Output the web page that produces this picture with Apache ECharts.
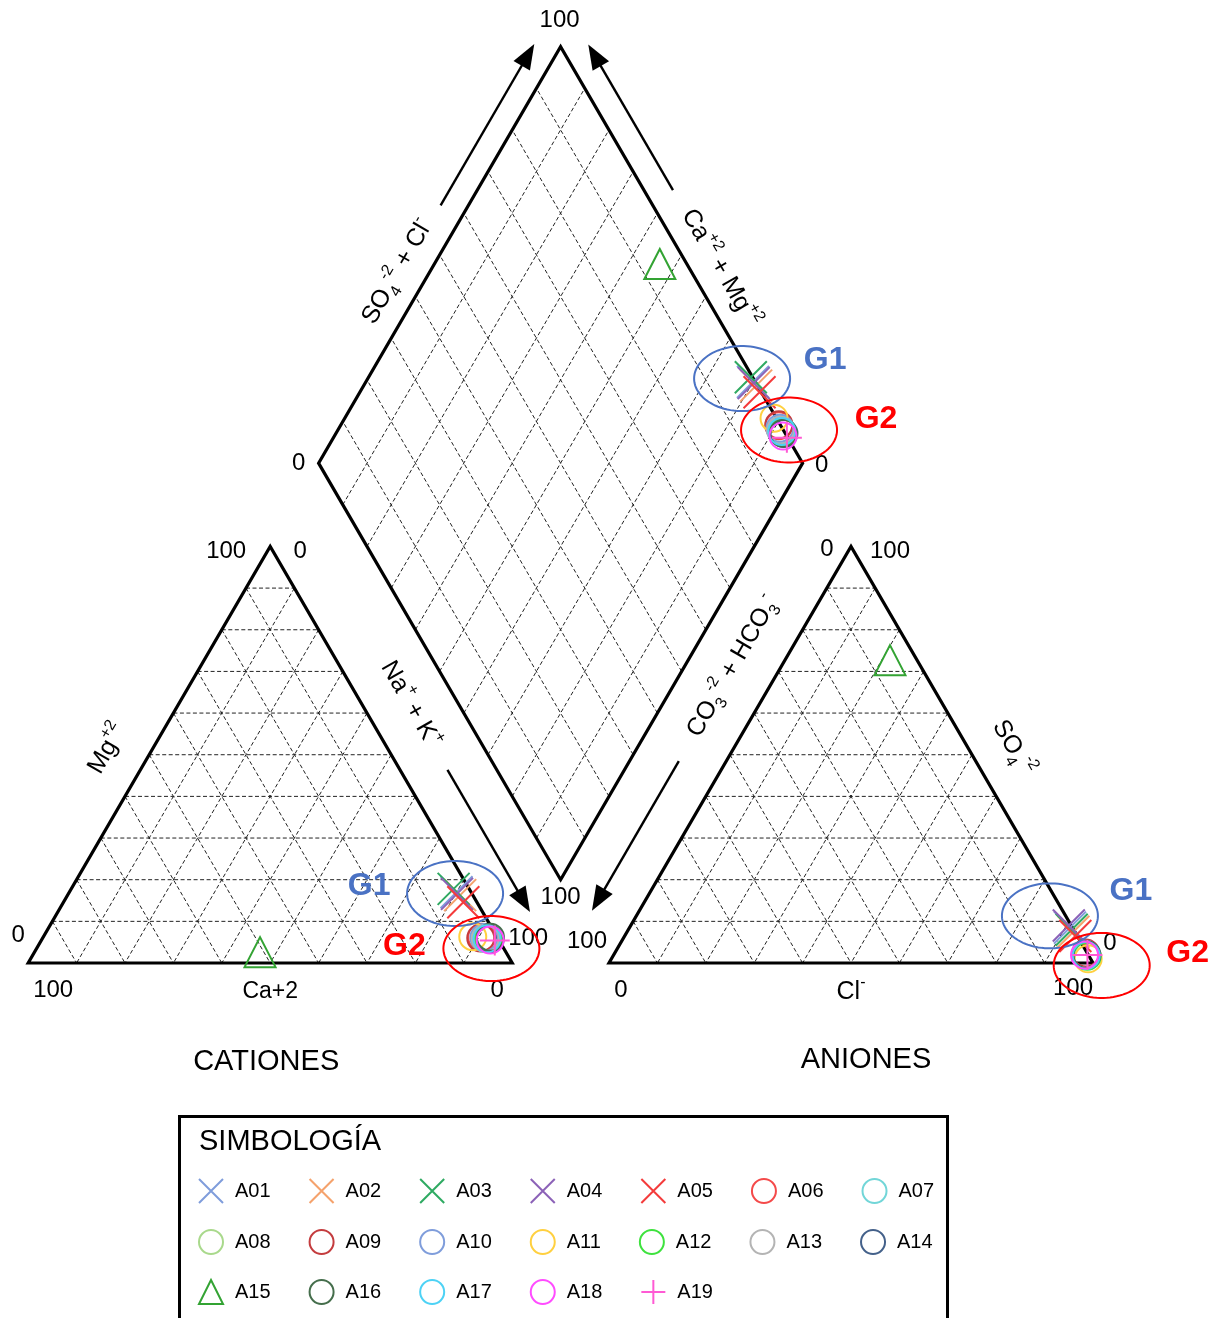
<!DOCTYPE html>
<html>
<head>
<meta charset="utf-8">
<script src="https://cdn.jsdelivr.net/npm/echarts@6/dist/echarts.min.js"></script>
<style>
  html, body { margin: 0; padding: 0; background: #fff; }
  #chart { width: 1221px; height: 1318px; }
</style>
</head>
<body>
<div id="chart"></div>
<script>
// ---- Sample data (meq/L percentages) ----
const samples = ['A01','A02','A03','A04','A05','A06','A07','A08','A09','A10',
                 'A11','A12','A13','A14','A15','A16','A17','A18','A19'];
// cations
const ca  = [3.0, 2.6, 3.2, 3.1, 2.8, 3.2, 2.5, 2.1, 3.5, 2.8, 5.0, 1.9, 2.6, 1.7, 50.8, 1.4, 2.3, 1.8, 0.9];
const mg  = [17.0, 16.3, 17.8, 16.6, 14.6, 6.2, 6.0, 5.8, 6.0, 6.1, 6.3, 5.9, 5.9, 5.7, 2.6, 6.2, 5.8, 5.5, 5.4];
const naK = [80.0, 81.1, 79.0, 80.3, 82.6, 90.6, 91.5, 92.1, 90.5, 91.1, 88.7, 92.2, 91.5, 92.6, 46.6, 92.4, 91.9, 92.7, 93.7];
// anions
const hco3 = [0.5, 0.3, 0.4, 0.5, 0.4, 0.4, 0.5, 0.6, 0.3, 0.5, 0.5, 0.4, 0.6, 0.3, 5.6, 0.4, 0.5, 0.8, 0.2];
const so4  = [8.5, 7.5, 8.0, 9.0, 6.5, 2.2, 2.0, 1.8, 2.4, 2.1, 1.0, 1.6, 2.0, 1.9, 72.7, 2.0, 1.8, 1.9, 1.9];
const cl   = [91.0, 92.2, 91.6, 90.5, 93.1, 97.4, 97.5, 97.6, 97.3, 97.4, 98.5, 98.0, 97.4, 97.8, 21.7, 97.6, 97.7, 97.3, 97.9];
// tick labels at the corners
const tickLow = '0', tickHigh = '100';

// ---- Styling per sample ----
const sampleColors = ['#7f9ddb','#f5a26c','#2faa62','#8c62b8','#f43b3b','#f44a4a','#72d6d8',
                      '#a9d98c','#c43c3e','#7f9ddb','#ffd040','#3ee23e','#b4b4b4','#44618a',
                      '#33a333','#456e4c','#4dd2f5','#ff4cff','#ff5ad4'];
const sampleShapes = ['x','x','x','x','x','o','o','o','o','o','o','o','o','o','tri','o','o','o','plus'];

const FONT = "'Liberation Sans', Arial, sans-serif";
const SQ = Math.sqrt(3) / 2;
const SIDE = 100, GAP = 20;

// Ternary -> plot units
function catPt(c, m, n) {
  const t = c + m + n; m = m / t * SIDE; n = n / t * SIDE;
  return [n + m / 2, m * SQ];
}
function anPt(h, s, c) {
  const t = h + s + c; s = s / t * SIDE; c = c / t * SIDE;
  return [SIDE + GAP + c + s / 2, s * SQ];
}
function diaPt(C, A) {   // C = Ca+Mg %, A = SO4+Cl %
  return [SIDE + GAP / 2 + (A - C) / 2, GAP * SQ + (A + C) * SQ];
}

// Group annotation ellipses (plot units for centre, pixel offsets for the labels)
const groups = [
  { name: 'G1', color: '#4a72c4', centres: [[147.5, 121.5], [88.2, 14.45], [211.1, 9.8]],
    labelOff: [[83, -18], [-86, -7], [81, -25]] },
  { name: 'G2', color: '#ff0000', centres: [[157.2, 110.8], [95.7, 3.0], [221.8, -0.5]],
    labelOff: [[87, -11], [-87, -2], [86, -12]] }
];

const SYMBOLS = {
  x: 'path://M0,0L20,20M20,0L0,20',
  plus: 'path://M10,0L10,20M0,10L20,10',
  o: 'circle',
  tri: 'triangle'
};
const SIZES = { x: 32, plus: 30, o: 27, tri: [31, 30] };

const richDefs = {
  b:   { fontSize: 25, fontFamily: FONT, lineHeight: 34, fill: '#000' },
  sup: { fontSize: 16, fontFamily: FONT, verticalAlign: 'top', fill: '#000' },
  sub: { fontSize: 16, fontFamily: FONT, verticalAlign: 'bottom', fill: '#000' }
};

function renderFrame(params, api) {
  const ch = [];
  const P = p => api.coord(p);
  const dash = { stroke: '#222', lineWidth: 1, lineDash: [4, 2.5] };
  const seg = (a, b, st) => {
    const p = P(a), q = P(b);
    ch.push({ type: 'line', shape: { x1: p[0], y1: p[1], x2: q[0], y2: q[1] }, style: st });
  };
  // dashed 10 % grid
  for (let t = 10; t < 100; t += 10) {
    seg(catPt(100 - t, t, 0), catPt(0, t, 100 - t), dash);
    seg(catPt(t, 100 - t, 0), catPt(t, 0, 100 - t), dash);
    seg(catPt(0, 100 - t, t), catPt(100 - t, 0, t), dash);
    seg(anPt(100 - t, t, 0), anPt(0, t, 100 - t), dash);
    seg(anPt(t, 100 - t, 0), anPt(t, 0, 100 - t), dash);
    seg(anPt(0, 100 - t, t), anPt(100 - t, 0, t), dash);
    seg(diaPt(0, t), diaPt(100, t), dash);
    seg(diaPt(t, 0), diaPt(t, 100), dash);
  }
  // outlines
  const outline = pts => ch.push({ type: 'polygon', shape: { points: pts.map(P) },
    style: { fill: 'none', stroke: '#000', lineWidth: 3.2, lineJoin: 'miter' } });
  const cBL = catPt(100, 0, 0), cBR = catPt(0, 0, 100), cT = catPt(0, 100, 0);
  const aBL = anPt(100, 0, 0), aBR = anPt(0, 0, 100), aT = anPt(0, 100, 0);
  const dB = diaPt(0, 0), dL = diaPt(100, 0), dR = diaPt(0, 100), dT = diaPt(100, 100);
  outline([cBL, cBR, cT]);
  outline([aBL, aBR, aT]);
  outline([dB, dR, dT, dL]);

  // point along an edge, offset perpendicular in pixels
  function along(a, b, f, off, sgn) {
    const p = P(a), q = P(b);
    const dx = q[0] - p[0], dy = q[1] - p[1], L = Math.hypot(dx, dy);
    const ux = dx / L, uy = dy / L;
    return [p[0] + f * dx + off * sgn * uy, p[1] + f * dy - off * sgn * ux, ux, uy];
  }
  function arrow(a, b, f0, f1, off, sgn) {
    const s = along(a, b, f0, off, sgn), e = along(a, b, f1, off, sgn);
    const ux = e[2], uy = e[3], hl = 25, hw = 9.5;
    const bx = e[0] - ux * hl, by = e[1] - uy * hl;
    ch.push({ type: 'line', shape: { x1: s[0], y1: s[1], x2: bx + ux * 2, y2: by + uy * 2 }, style: { stroke: '#000', lineWidth: 2.4 } });
    ch.push({ type: 'polygon', shape: { points: [[e[0], e[1]], [bx - uy * hw, by + ux * hw], [bx + uy * hw, by - ux * hw]] },
      style: { fill: '#000' } });
  }
  function txt(x, y, text, rot, extra) {
    ch.push({ type: 'text', x: x, y: y, rotation: rot || 0,
      style: Object.assign({ text: text, fill: '#000', fontFamily: FONT, fontSize: 24,
        align: 'center', verticalAlign: 'middle', rich: richDefs }, extra || {}) });
  }
  function edgeLabel(a, b, f, off, sgn, text, rotDeg) {
    const p = along(a, b, f, off, sgn);
    txt(p[0], p[1], text, rotDeg * Math.PI / 180);
  }
  function cornerLabel(v, dx, dy, text) {
    const p = P(v); txt(p[0] + dx, p[1] + dy, text);
  }

  // axis arrows
  arrow(dL, dT, 0.59, 0.977, 24, 1);
  arrow(dR, dT, 0.625, 0.975, 25, -1);
  arrow(cT, cBR, 0.586, 0.927, 41, 1);
  arrow(aT, aBL, 0.565, 0.924, 41, -1);

  // axis titles along edges
  edgeLabel(dL, dT, 0.426, 28, 1, '{b|SO}{sub|4}{sup|-2}{b| + Cl}{sup|-}', 60);
  edgeLabel(dR, dT, 0.436, 27, -1, '{b|Ca}{sup|+2}{b| + Mg}{sup|+2}', -60);
  edgeLabel(cT, cBR, 0.43, 42, 1, '{b|Na}{sup|+}{b| + K}{sup|+}', -60);
  edgeLabel(aT, aBL, 0.338, 42, -1, '{b|CO}{sub|3}{sup|-2}{b| + HCO}{sub|3}{sup|-}', 60);
  edgeLabel(cBL, cT, 0.467, 39, 1, '{b|Mg}{sup|+2}', 60);
  edgeLabel(aBR, aT, 0.47, 39, -1, '{b|SO}{sub|4}{sup|-2}', -60);

  // corner ticks
  cornerLabel(cBL, -10, -28, tickLow);  cornerLabel(cBL, 25, 27, tickHigh);
  cornerLabel(cBR, -15, 27, tickLow);   cornerLabel(cBR, 16, -25, tickHigh);
  cornerLabel(cT, -44, 5, tickHigh);    cornerLabel(cT, 30, 5, tickLow);
  cornerLabel(aBL, -22, -22, tickHigh); cornerLabel(aBL, 12, 27, tickLow);
  cornerLabel(aBR, -20, 25, tickHigh);  cornerLabel(aBR, 17, -20, tickLow);
  cornerLabel(aT, -24, 3, tickLow);     cornerLabel(aT, 39, 5, tickHigh);
  cornerLabel(dT, -1, -26, tickHigh);   cornerLabel(dL, -20, 0, tickLow);
  cornerLabel(dR, 19, 2, tickLow);      cornerLabel(dB, 0, 18, tickHigh);

  // bottom titles
  const cMid = P(catPt(50, 0, 50)), aMid = P(anPt(50, 0, 50));
  txt(cMid[0], cMid[1] + 29, 'Ca+2', 0, { fontSize: 23 });
  txt(aMid[0], aMid[1] + 29, '{b|Cl}{sup|-}', 0);
  txt(cMid[0] - 4, cMid[1] + 99, 'CATIONES', 0, { fontSize: 29 });
  txt(aMid[0] + 15, aMid[1] + 97, 'ANIONES', 0, { fontSize: 29 });

  return { type: 'group', children: ch };
}

function renderGroups(params, api) {
  const ch = [];
  groups.forEach(g => {
    g.centres.forEach((c, k) => {
      const p = api.coord(c);
      const pts = [];
      for (let i = 0; i < 90; i++) {
        const a = i / 90 * Math.PI * 2;
        pts.push([p[0] + 48 * Math.cos(a), p[1] + 32.5 * Math.sin(a)]);
      }
      ch.push({ type: 'polygon', shape: { points: pts }, style: { fill: 'none', stroke: g.color, lineWidth: 2 } });
      ch.push({ type: 'text', x: p[0] + g.labelOff[k][0], y: p[1] + g.labelOff[k][1],
        style: { text: g.name, fill: g.color, fontFamily: FONT, fontSize: 32, fontWeight: 'bold',
          align: 'center', verticalAlign: 'middle' } });
    });
  });
  return { type: 'group', children: ch };
}

const sampleSeries = samples.map((name, i) => {
  const C = (ca[i] + mg[i]) / (ca[i] + mg[i] + naK[i]) * 100;
  const A = (so4[i] + cl[i]) / (hco3[i] + so4[i] + cl[i]) * 100;
  const shp = sampleShapes[i];
  return {
    type: 'scatter', name: name, z: 3,
    symbol: SYMBOLS[shp], symbolSize: SIZES[shp],
    itemStyle: { color: 'rgba(0,0,0,0)', borderColor: sampleColors[i], borderWidth: 2, opacity: 1 },
    emphasis: { disabled: true },
    data: [catPt(ca[i], mg[i], naK[i]), anPt(hco3[i], so4[i], cl[i]), diaPt(C, A)]
  };
});

function legendRow(names, top) {
  return {
    left: 198, top: top, orient: 'horizontal', padding: 0,
    itemWidth: 24, itemHeight: 24, itemGap: 38, selectedMode: false,
    itemStyle: { borderWidth: 2, opacity: 1 },
    formatter: n => '{t|' + n + '}',
    textStyle: {
      fontSize: 20, fontFamily: FONT, color: '#000',
      rich: { t: { fontSize: 20, fontFamily: FONT, color: '#000', padding: [0, 0, 0, 7] } }
    },
    data: names
  };
}

const chart = echarts.init(document.getElementById('chart'), null, { renderer: 'canvas' });
chart.setOption({
  animation: false,
  backgroundColor: '#fff',
  grid: { left: 4, top: 1, width: 1210, height: 1082.25, show: false },
  xAxis: { type: 'value', min: -5, max: 245, interval: 5, show: false },
  yAxis: { type: 'value', min: -25, max: 200, interval: 5, show: false },
  legend: [
    legendRow(samples.slice(0, 7), 1178),
    legendRow(samples.slice(7, 14), 1229),
    legendRow(samples.slice(14), 1279)
  ],
  graphic: [
    { type: 'rect', left: 177, top: 1114, shape: { width: 768, height: 220 },
      style: { fill: 'none', stroke: '#000', lineWidth: 3 } },
    { type: 'text', left: 199, top: 1127,
      style: { text: 'SIMBOLOGÍA', fill: '#000', fontFamily: FONT, fontSize: 29 } }
  ],
  series: [
    { type: 'custom', name: 'frame', z: 1, silent: true, renderItem: renderFrame, data: [[0, 0]] }
  ].concat(sampleSeries).concat([
    { type: 'custom', name: 'groups', z: 5, silent: true, renderItem: renderGroups, data: [[0, 0]] }
  ])
});
</script>
</body>
</html>
